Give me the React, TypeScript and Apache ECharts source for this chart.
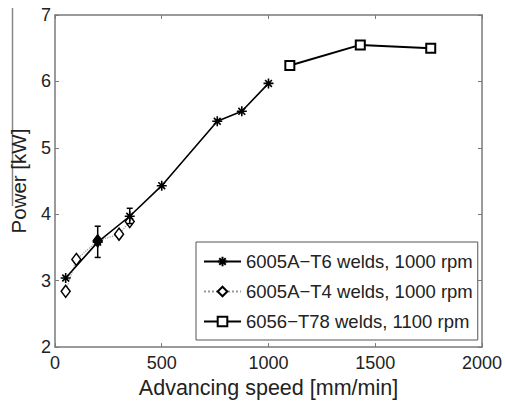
import React, { useEffect, useRef } from "react";
import * as echarts from "echarts";

const xTicks = [0, 500, 1000, 1500, 2000];
const yTicks = [2, 3, 4, 5, 6, 7];

const t6Name = "6005A\u2212T6 welds, 1000 rpm";
const t6X = [50, 200, 350, 500, 760, 875, 1000];
const t6Y = [3.04, 3.58, 3.97, 4.43, 5.4, 5.55, 5.97];

const errX = [200, 350];
const errLow = [3.35, 3.86];
const errHigh = [3.82, 4.09];

const t4Name = "6005A\u2212T4 welds, 1000 rpm";
const t4X = [50, 100, 200, 300, 350];
const t4Y = [2.84, 3.32, 3.6, 3.7, 3.89];

const t78Name = "6056\u2212T78 welds, 1100 rpm";
const t78X = [1100, 1430, 1760];
const t78Y = [6.24, 6.55, 6.5];

const FONT = "Liberation Sans";
const STAR = "path://M5,0 L5,10 M0,5 L10,5 M1.6,1.6 L8.4,8.4 M1.6,8.4 L8.4,1.6";

export default function App() {
  const ref = useRef<HTMLDivElement>(null);
  useEffect(() => {
    if (!ref.current) return;
    const chart = echarts.init(ref.current, undefined, { renderer: "svg" });
    const axisCol = "#7a7a7a";
    const txt = "#222";
    const baseX = {
      type: "value",
      min: xTicks[0],
      max: xTicks[xTicks.length - 1],
      interval: xTicks[1] - xTicks[0],
      splitLine: { show: false },
      axisLine: { show: true, onZero: false, lineStyle: { color: axisCol, width: 1.5 } },
      axisTick: { show: true, inside: true, length: 4, lineStyle: { color: axisCol } },
    };
    const baseY = {
      type: "value",
      min: yTicks[0],
      max: yTicks[yTicks.length - 1],
      interval: yTicks[1] - yTicks[0],
      splitLine: { show: false },
      axisLine: { show: true, onZero: false, lineStyle: { color: axisCol, width: 1.5 } },
      axisTick: { show: true, inside: true, length: 4, lineStyle: { color: axisCol } },
    };
    chart.setOption({
      animation: false,
      backgroundColor: "#fff",
      textStyle: { fontFamily: FONT },
      grid: { left: 53, right: 20, top: 15, bottom: 51 },
      xAxis: [
        {
          ...baseX,
          position: "bottom",
          name: "Advancing speed [mm/min]",
          nameLocation: "middle",
          nameGap: 26,
          nameTextStyle: { fontSize: 21.5, color: txt, fontFamily: FONT },
          axisLabel: {
            fontSize: 18,
            color: txt,
            margin: 7,
            fontFamily: FONT,
            formatter: (v: number) => String(v),
          },
        },
        { ...baseX, position: "top", axisLabel: { show: false } },
      ],
      yAxis: [
        {
          ...baseY,
          position: "left",
          name: "Power [kW]",
          nameLocation: "middle",
          nameGap: 26,
          nameTextStyle: { fontSize: 20.5, color: txt, fontFamily: FONT },
          axisLabel: { fontSize: 18, color: txt, margin: 4, fontFamily: FONT },
        },
        { ...baseY, position: "right", axisLabel: { show: false } },
      ],
      legend: {
        data: [t6Name, t4Name, t78Name],
        orient: "vertical",
        left: 196,
        top: 242,
        padding: [10, 5, 9, 7],
        backgroundColor: "#fff",
        borderColor: "#555",
        borderWidth: 1,
        itemWidth: 37,
        itemHeight: 12,
        itemGap: 11,
        textStyle: { fontSize: 18.5, color: txt, fontFamily: FONT, lineHeight: 18 },
      },
      graphic: [
        {
          type: "line",
          shape: { x1: 12.5, y1: 8, x2: 12.5, y2: 206 },
          style: { stroke: "#888", lineWidth: 1.5 },
        },
      ],
      series: [
        {
          name: t4Name,
          type: "line",
          data: t4X.map((x, i) =>
            i === 2
              ? { value: [x, t4Y[i]], itemStyle: { color: "#000" } }
              : [x, t4Y[i]]
          ),
          symbol: "diamond",
          symbolSize: [9, 12],
          color: "#000",
          itemStyle: { color: "#fff", borderColor: "#000", borderWidth: 1.5 },
          lineStyle: { color: "#999", width: 1.2, type: "dotted" },
          z: 2,
        },
        {
          name: t6Name,
          type: "line",
          data: t6X.map((x, i) => [x, t6Y[i]]),
          symbol: STAR,
          symbolSize: 10,
          color: "#000",
          itemStyle: { color: "#000", borderColor: "#000", borderWidth: 1.6 },
          lineStyle: { color: "#000", width: 1.6 },
          z: 3,
        },
        {
          name: "err",
          type: "custom",
          data: errX.map((x, i) => [x, errLow[i], errHigh[i]]),
          encode: { x: 0, y: [1, 2] },
          z: 4,
          renderItem: (params: any, api: any) => {
            const x = api.value(0);
            const lo = api.coord([x, api.value(1)]);
            const hi = api.coord([x, api.value(2)]);
            const w = 3;
            const st = { stroke: "#000", lineWidth: 1.5 };
            return {
              type: "group",
              children: [
                { type: "line", shape: { x1: lo[0], y1: lo[1], x2: hi[0], y2: hi[1] }, style: st },
                { type: "line", shape: { x1: lo[0] - w, y1: lo[1], x2: lo[0] + w, y2: lo[1] }, style: st },
                { type: "line", shape: { x1: hi[0] - w, y1: hi[1], x2: hi[0] + w, y2: hi[1] }, style: st },
              ],
            };
          },
        },
        {
          name: t78Name,
          type: "line",
          data: t78X.map((x, i) => [x, t78Y[i]]),
          symbol: "rect",
          symbolSize: 9,
          color: "#000",
          itemStyle: { color: "#fff", borderColor: "#000", borderWidth: 2 },
          lineStyle: { color: "#000", width: 2 },
          z: 3,
        },
      ],
    });
    return () => chart.dispose();
  }, []);
  return (
    <div
      ref={ref}
      style={{ position: "fixed", left: 0, top: 0, width: 505, height: 404, background: "#fff" }}
    />
  );
}
